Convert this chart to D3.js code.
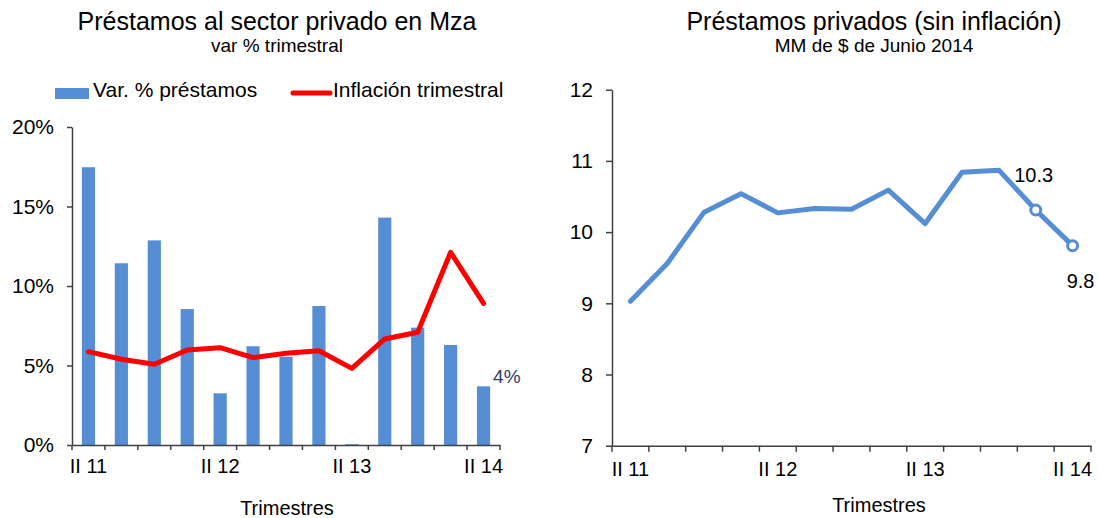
<!DOCTYPE html>
<html>
<head>
<meta charset="utf-8">
<script src="https://cdn.jsdelivr.net/npm/d3@7"></script>
<style>
  html, body { margin: 0; padding: 0; background: #fff; }
  svg { display: block; font-family: "Liberation Sans", Arial, sans-serif; }
</style>
</head>
<body>
<svg id="chart" width="1099" height="518"></svg>
<script>
// quarters II 2011 .. II 2014
const quarters = ["II 11", "III 11", "IV 11", "I 12", "II 12", "III 12", "IV 12",
  "I 13", "II 13", "III 13", "IV 13", "I 14", "II 14"];
const labeledTicks = ["II 11", "II 12", "II 13", "II 14"];

// left chart: quarterly % change of loans and quarterly inflation
const loanGrowth = [17.47, 11.43, 12.87, 8.55, 3.25, 6.21, 5.55, 8.74, 0.05, 14.3, 7.38, 6.29, 3.69];
const inflation = [5.87, 5.39, 5.08, 5.97, 6.12, 5.49, 5.77, 5.93, 4.82, 6.67, 7.09, 12.12, 8.91];
const pctTicks = [0, 5, 10, 15, 20];

// right chart: real loans, MM $ of June 2014
const realLoans = [9.03, 9.56, 10.28, 10.54, 10.27, 10.33, 10.32, 10.59, 10.12, 10.84, 10.87, 10.31, 9.81];
const realTicks = [7, 8, 9, 10, 11, 12];

const blue = "#558ED5";
const red = "#FF0000";
const axisColor = "#404040";

const svg = d3.select("#chart");

function styleAxis(g) {
  g.select(".domain").attr("stroke", axisColor).attr("stroke-width", 1.5);
  g.selectAll(".tick line").attr("stroke", axisColor).attr("stroke-width", 1.5);
  g.selectAll(".tick text").attr("fill", "#000").attr("font-family", "Liberation Sans, Arial, sans-serif");
}

// band boundary ticks, like Excel category axis
function boundaryTicks(g, x, y0, len) {
  const r0 = x.range()[0];
  d3.range(quarters.length + 1).forEach(i => {
    const xx = r0 + i * x.step();
    g.append("line")
      .attr("x1", xx).attr("x2", xx)
      .attr("y1", y0).attr("y2", y0 + len)
      .attr("stroke", axisColor).attr("stroke-width", 1.5);
  });
}

// -------------------- LEFT: var % trimestral --------------------
{
  const left = 72, right = 500, top = 127, bottom = 445;

  svg.append("text").attr("x", 277).attr("y", 30).attr("text-anchor", "middle")
    .attr("font-size", 25).text("Préstamos al sector privado en Mza");
  svg.append("text").attr("x", 277).attr("y", 52).attr("text-anchor", "middle")
    .attr("font-size", 19).text("var % trimestral");

  // legend
  svg.append("rect").attr("x", 55).attr("y", 88).attr("width", 34).attr("height", 11).attr("fill", blue);
  svg.append("text").attr("x", 93).attr("y", 97).attr("font-size", 21).text("Var. % préstamos");
  svg.append("line").attr("x1", 293).attr("x2", 330).attr("y1", 93).attr("y2", 93)
    .attr("stroke", red).attr("stroke-width", 5).attr("stroke-linecap", "round");
  svg.append("text").attr("x", 333).attr("y", 97).attr("font-size", 21).text("Inflación trimestral");

  const x = d3.scaleBand().domain(quarters).range([left, right]).paddingInner(0.6).paddingOuter(0.3);
  const y = d3.scaleLinear().domain([0, 20]).range([bottom, top]);

  svg.append("g").selectAll("rect")
    .data(loanGrowth)
    .join("rect")
    .attr("x", (d, i) => x(quarters[i]))
    .attr("y", d => y(d))
    .attr("width", x.bandwidth())
    .attr("height", d => y(0) - y(d))
    .attr("fill", blue);

  const line = d3.line()
    .x((d, i) => x(quarters[i]) + x.bandwidth() / 2)
    .y(d => y(d));
  svg.append("path").datum(inflation)
    .attr("d", line)
    .attr("fill", "none").attr("stroke", red).attr("stroke-width", 5)
    .attr("stroke-linejoin", "round").attr("stroke-linecap", "round");

  // last value label
  const last = loanGrowth.length - 1;
  svg.append("text")
    .attr("x", x(quarters[last]) + x.bandwidth() + 3)
    .attr("y", y(loanGrowth[last]) - 3)
    .attr("font-size", 19).attr("fill", "#2F4063")
    .text(Math.round(loanGrowth[last]) + "%");

  const ya = svg.append("g").attr("transform", `translate(${left},0)`)
    .call(d3.axisLeft(y).tickValues(pctTicks).tickFormat(d => d + "%").tickSize(5).tickPadding(13).tickSizeOuter(0));
  ya.selectAll(".tick text").attr("font-size", 21);
  styleAxis(ya);

  const xa = svg.append("g").attr("transform", `translate(0,${bottom})`)
    .call(d3.axisBottom(x).tickSize(0).tickSizeOuter(0).tickPadding(14)
      .tickFormat(d => labeledTicks.includes(d) ? d : ""));
  xa.selectAll(".tick text").attr("font-size", 20);
  styleAxis(xa);
  boundaryTicks(svg.append("g"), x, bottom, 5);

  svg.append("text").attr("x", 287).attr("y", 515).attr("text-anchor", "middle")
    .attr("font-size", 20).text("Trimestres");
}

// -------------------- RIGHT: real loans --------------------
{
  const left = 612, right = 1091, top = 89.7, bottom = 445.7;

  svg.append("text").attr("x", 874).attr("y", 30).attr("text-anchor", "middle")
    .attr("font-size", 25).text("Préstamos privados (sin inflación)");
  svg.append("text").attr("x", 874).attr("y", 52).attr("text-anchor", "middle")
    .attr("font-size", 19).text("MM de $ de Junio 2014");

  const x = d3.scaleBand().domain(quarters).range([left, right]).padding(0);
  const y = d3.scaleLinear().domain([7, 12]).range([bottom, top]);
  const cx = i => x(quarters[i]) + x.bandwidth() / 2;

  const ya = svg.append("g").attr("transform", `translate(${left},0)`)
    .call(d3.axisLeft(y).tickValues(realTicks).tickFormat(d3.format("d"))
      .tickSize(6).tickPadding(13).tickSizeOuter(0));
  ya.selectAll(".tick text").attr("font-size", 21);
  styleAxis(ya);

  const xa = svg.append("g").attr("transform", `translate(0,${bottom})`)
    .call(d3.axisBottom(x).tickSize(0).tickSizeOuter(0).tickPadding(16)
      .tickFormat(d => labeledTicks.includes(d) ? d : ""));
  xa.selectAll(".tick text").attr("font-size", 20);
  styleAxis(xa);
  boundaryTicks(svg.append("g"), x, bottom, 6);

  const line = d3.line().x((d, i) => cx(i)).y(d => y(d));
  svg.append("path").datum(realLoans)
    .attr("d", line)
    .attr("fill", "none").attr("stroke", blue).attr("stroke-width", 5)
    .attr("stroke-linejoin", "round").attr("stroke-linecap", "round");

  const n = realLoans.length;
  const marked = [n - 2, n - 1];
  svg.append("g").selectAll("circle")
    .data(marked)
    .join("circle")
    .attr("cx", i => cx(i))
    .attr("cy", i => y(realLoans[i]))
    .attr("r", 5)
    .attr("fill", "#fff").attr("stroke", blue).attr("stroke-width", 3);

  svg.append("text")
    .attr("x", cx(n - 2) - 2).attr("y", y(realLoans[n - 2]) - 28)
    .attr("text-anchor", "middle").attr("font-size", 20)
    .text(realLoans[n - 2].toFixed(1));
  svg.append("text")
    .attr("x", cx(n - 1) + 8).attr("y", y(realLoans[n - 1]) + 42)
    .attr("text-anchor", "middle").attr("font-size", 20)
    .text(realLoans[n - 1].toFixed(1));

  svg.append("text").attr("x", 879).attr("y", 512).attr("text-anchor", "middle")
    .attr("font-size", 20).text("Trimestres");
}
</script>
</body>
</html>
